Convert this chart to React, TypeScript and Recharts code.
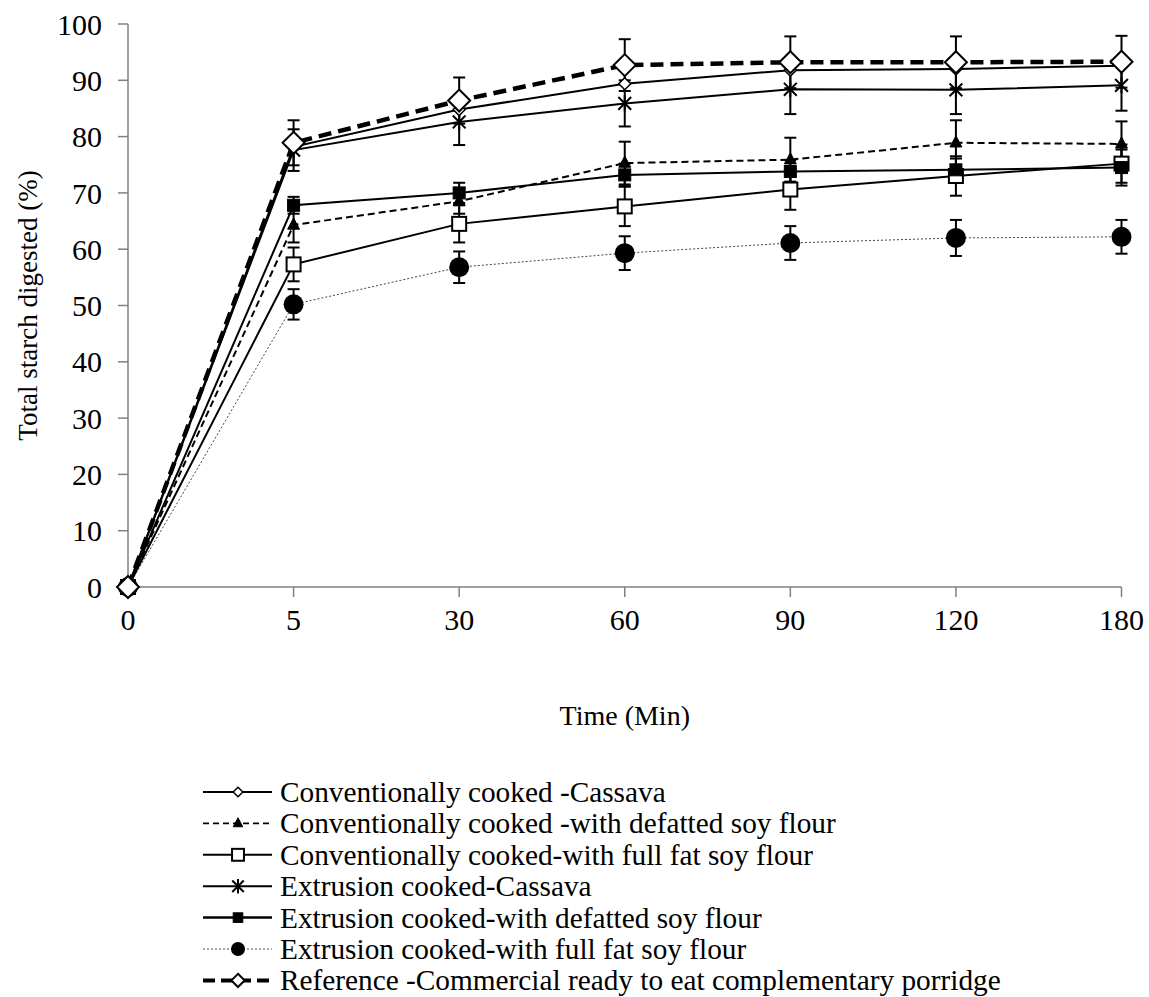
import React from "react";
import { LineChart, Line, XAxis, YAxis, ErrorBar } from "recharts";

const times = ["0", "5", "30", "60", "90", "120", "180"];
const yTicks = [0, 10, 20, 30, 40, 50, 60, 70, 80, 90, 100];

const convCassava = [0, 78.2, 84.8, 89.4, 91.8, 92.0, 92.6];
const convDefatted = [0, 64.3, 68.5, 75.3, 75.9, 78.9, 78.7];
const convDefattedErr = [0, 3.1, 2.2, 3.8, 3.9, 4.0, 4.0];
const convFullFat = [0, 57.3, 64.5, 67.6, 70.6, 73.0, 75.2];
const convFullFatErr = [0, 3.0, 3.3, 3.5, 3.6, 3.5, 3.4];
const extrCassava = [0, 77.6, 82.6, 85.9, 88.4, 88.3, 89.1];
const extrCassavaErr = [0, 3.7, 4.1, 4.1, 4.4, 4.3, 4.5];
const extrDefatted = [0, 67.8, 70.0, 73.2, 73.8, 74.1, 74.5];
const extrDefattedErr = [0, 1.5, 1.8, 2.0, 2.0, 2.0, 3.2];
const extrFullFat = [0, 50.2, 56.8, 59.3, 61.1, 62.0, 62.2];
const extrFullFatErr = [0, 2.7, 2.8, 3.0, 3.0, 3.2, 3.0];
const reference = [0, 78.9, 86.4, 92.7, 93.2, 93.2, 93.3];
const referenceErr = [0, 4.0, 4.1, 4.6, 4.6, 4.6, 4.6];

const legendLabels = [
  "Conventionally cooked -Cassava",
  "Conventionally cooked -with defatted soy flour",
  "Conventionally cooked-with full fat soy flour",
  "Extrusion cooked-Cassava",
  "Extrusion cooked-with defatted soy flour",
  "Extrusion cooked-with full fat soy flour",
  "Reference -Commercial ready to eat complementary porridge",
];

const data = times.map((t, i) => ({
  time: t,
  convCassava: convCassava[i],
  convDefatted: convDefatted[i],
  convDefattedErr: convDefattedErr[i],
  convFullFat: convFullFat[i],
  convFullFatErr: convFullFatErr[i],
  extrCassava: extrCassava[i],
  extrCassavaErr: extrCassavaErr[i],
  extrDefatted: extrDefatted[i],
  extrDefattedErr: extrDefattedErr[i],
  extrFullFat: extrFullFat[i],
  extrFullFatErr: extrFullFatErr[i],
  reference: reference[i],
  referenceErr: referenceErr[i],
}));

const FONT = "'Liberation Serif', 'Times New Roman', serif";

type Shape = "diamond" | "triangle" | "square" | "star" | "filledSquare" | "circle" | "bigDiamond";

function Marker({ shape, cx, cy, s = 1 }: { shape: Shape; cx: number; cy: number; s?: number }) {
  if (cx == null || cy == null) return null;
  switch (shape) {
    case "diamond": {
      const r = 6 * s;
      return <path d={`M${cx},${cy - r}L${cx + r},${cy}L${cx},${cy + r}L${cx - r},${cy}Z`} fill="#fff" stroke="#000" strokeWidth={1.5} />;
    }
    case "bigDiamond": {
      const r = 11 * s;
      return <path d={`M${cx},${cy - r}L${cx + r},${cy}L${cx},${cy + r}L${cx - r},${cy}Z`} fill="#fff" stroke="#000" strokeWidth={2} />;
    }
    case "triangle": {
      const r = 7 * s;
      return <path d={`M${cx},${cy - r}L${cx + r * 0.85},${cy + r * 0.6}L${cx - r * 0.85},${cy + r * 0.6}Z`} fill="#000" stroke="#000" strokeWidth={1} />;
    }
    case "square": {
      const r = 7 * s;
      return <rect x={cx - r} y={cy - r} width={2 * r} height={2 * r} fill="#fff" stroke="#000" strokeWidth={2} />;
    }
    case "filledSquare": {
      const r = 6 * s;
      return <rect x={cx - r} y={cy - r} width={2 * r} height={2 * r} fill="#000" stroke="#000" strokeWidth={1} />;
    }
    case "circle":
      return <circle cx={cx} cy={cy} r={10 * s} fill="#000" />;
    case "star": {
      const r = 8 * s;
      const d = r * 0.8;
      return (
        <g stroke="#000" strokeWidth={2}>
          <line x1={cx} y1={cy - r} x2={cx} y2={cy + r} />
          <line x1={cx - d} y1={cy - d} x2={cx + d} y2={cy + d} />
          <line x1={cx - d} y1={cy + d} x2={cx + d} y2={cy - d} />
        </g>
      );
    }
  }
  return null;
}

const dotFor = (shape: Shape) => (p: any) => (
  <g key={`${shape}-${p.index}`}>
    <Marker shape={shape} cx={p.cx} cy={p.cy} />
  </g>
);

const legendItems: { shape: Shape; dash?: string; width: number; color: string; ms: number }[] = [
  { shape: "diamond", width: 2, color: "#000", ms: 0.8 },
  { shape: "triangle", dash: "6 4", width: 1.8, color: "#000", ms: 0.8 },
  { shape: "square", width: 2, color: "#000", ms: 0.85 },
  { shape: "star", width: 2, color: "#000", ms: 0.9 },
  { shape: "filledSquare", width: 2.5, color: "#000", ms: 0.8 },
  { shape: "circle", dash: "2 2", width: 1, color: "#444", ms: 0.7 },
  { shape: "bigDiamond", dash: "12 6", width: 4, color: "#000", ms: 0.6 },
];

function LegendBlock() {
  const rowH = 31.4;
  return (
    <svg width={940} height={226} style={{ position: "absolute", left: 200, top: 771 }}>
      {legendLabels.map((label, i) => {
        const it = legendItems[i];
        const y = 21 + i * rowH;
        return (
          <g key={label}>
            <line x1={3} x2={72} y1={y} y2={y} stroke={it.color} strokeWidth={it.width} strokeDasharray={it.dash} />
            <Marker shape={it.shape} cx={38} cy={y} s={it.ms} />
            <text x={80} y={y} dominantBaseline="central" fontFamily={FONT} fontSize={29.3} fill="#000">
              {label}
            </text>
          </g>
        );
      })}
    </svg>
  );
}

export default function App() {
  return (
    <div style={{ position: "fixed", left: 0, top: 0, width: 1149, height: 997, background: "#fff" }}>
      <LineChart
        width={1149}
        height={748}
        data={data}
        margin={{ top: 24, right: 27.5, left: 8, bottom: 101 }}
      >
        <XAxis
          dataKey="time"
          height={60}
          tickSize={10}
          tickMargin={12}
          stroke="#808080"
          strokeWidth={1.5}
          tick={{ fill: "#000", fontSize: 30, fontFamily: FONT }}
          label={{ value: "Time (Min)", position: "bottom", offset: 58, fill: "#000", fontSize: 28, fontFamily: FONT }}
        />
        <YAxis
          width={120}
          domain={[0, 100]}
          ticks={yTicks}
          interval={0}
          tickSize={10}
          tickMargin={16}
          stroke="#808080"
          strokeWidth={1.5}
          tick={{ fill: "#000", fontSize: 30, fontFamily: FONT }}
          label={{
            content: (props: any) => {
              const vb = props.viewBox || {};
              const cy = (vb.y ?? 24) + (vb.height ?? 563) / 2;
              return (
                <text
                  x={28}
                  y={cy}
                  transform={`rotate(-90, 28, ${cy})`}
                  textAnchor="middle"
                  dominantBaseline="central"
                  fontFamily={FONT}
                  fontSize={27}
                  fill="#000"
                >
                  Total starch digested (%)
                </text>
              );
            },
          }}
        />
        <Line dataKey="extrFullFat" stroke="#444" strokeWidth={1} strokeDasharray="2 2" dot={dotFor("circle")} isAnimationActive={false}>
          <ErrorBar dataKey="extrFullFatErr" direction="y" width={6} strokeWidth={2} stroke="#000" isAnimationActive={false} />
        </Line>
        <Line dataKey="convFullFat" stroke="#000" strokeWidth={2} dot={dotFor("square")} isAnimationActive={false}>
          <ErrorBar dataKey="convFullFatErr" direction="y" width={6} strokeWidth={2} stroke="#000" isAnimationActive={false} />
        </Line>
        <Line dataKey="extrDefatted" stroke="#000" strokeWidth={2} dot={dotFor("filledSquare")} isAnimationActive={false}>
          <ErrorBar dataKey="extrDefattedErr" direction="y" width={6} strokeWidth={2} stroke="#000" isAnimationActive={false} />
        </Line>
        <Line dataKey="convDefatted" stroke="#000" strokeWidth={2} strokeDasharray="7 4" dot={dotFor("triangle")} isAnimationActive={false}>
          <ErrorBar dataKey="convDefattedErr" direction="y" width={6} strokeWidth={2} stroke="#000" isAnimationActive={false} />
        </Line>
        <Line dataKey="extrCassava" stroke="#000" strokeWidth={2} dot={dotFor("star")} isAnimationActive={false}>
          <ErrorBar dataKey="extrCassavaErr" direction="y" width={6} strokeWidth={2} stroke="#000" isAnimationActive={false} />
        </Line>
        <Line dataKey="convCassava" stroke="#000" strokeWidth={2} dot={dotFor("diamond")} isAnimationActive={false} />
        <Line dataKey="reference" stroke="#000" strokeWidth={4.5} strokeDasharray="13 7" dot={dotFor("bigDiamond")} isAnimationActive={false}>
          <ErrorBar dataKey="referenceErr" direction="y" width={6} strokeWidth={2} stroke="#000" isAnimationActive={false} />
        </Line>
      </LineChart>
      <LegendBlock />
    </div>
  );
}
